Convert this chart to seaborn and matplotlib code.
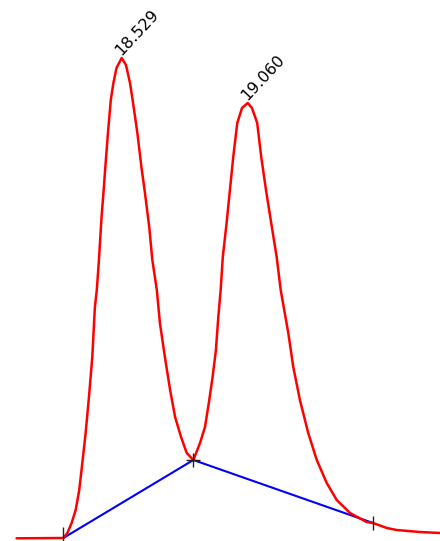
import matplotlib
matplotlib.use("Agg")
import matplotlib.pyplot as plt
import seaborn as sns
import pandas as pd

# Retention time (min) and detector signal
time_min = [18.086, 18.283, 18.300, 18.318, 18.335, 18.350, 18.363, 18.377, 18.391, 18.405,
            18.416, 18.424, 18.433, 18.444, 18.452, 18.460, 18.471, 18.483, 18.494, 18.507,
            18.529, 18.547, 18.564, 18.575, 18.595, 18.612, 18.627, 18.645, 18.658, 18.677,
            18.690, 18.711, 18.733, 18.754, 18.779, 18.803, 18.831, 18.859, 18.880, 18.898,
            18.912, 18.926, 18.936, 18.946, 18.955, 18.971, 18.985, 18.999, 19.016, 19.036,
            19.060, 19.078, 19.100, 19.117, 19.137, 19.159, 19.182, 19.199, 19.231, 19.252,
            19.280, 19.315, 19.351, 19.393, 19.435, 19.491, 19.561, 19.588, 19.646, 19.688,
            19.786, 19.870]
signal = [2.7, 3, 8, 18, 31, 51, 78, 108, 144, 184,
          234, 251, 281, 324, 348, 374, 408, 441, 458, 473,
          483, 476, 458, 441, 408, 374, 348, 314, 281, 251,
          218, 184, 151, 124, 104, 88, 81, 98, 114, 141,
          164, 191, 224, 251, 284, 318, 351, 384, 418, 433,
          438, 433, 418, 384, 351, 318, 284, 251, 208, 174,
          141, 108, 81, 58, 41, 28, 19, 18, 13, 11,
          9, 8]

# Integration baseline points (start, valley drop, end)
base_time = [18.283, 18.831, 19.588]
base_signal = [3, 81, 18]

# Peak labels
peak_time = [18.529, 19.060]
peak_signal = [483, 438]
peak_labels = ["18.529", "19.060"]

sns.set_theme(style="white")
fig = plt.figure(figsize=(4.4, 5.41), dpi=100)
ax = fig.add_axes([0, 0, 1, 1])

df = pd.DataFrame({"t": time_min, "s": signal})
bdf = pd.DataFrame({"t": base_time, "s": base_signal})

sns.lineplot(data=bdf, x="t", y="s", sort=False, color="#0000ff", lw=1.5, ax=ax, zorder=2)
sns.lineplot(data=df, x="t", y="s", sort=False, color="#ff0000", lw=1.8, ax=ax, zorder=3)

# baseline markers
ax.scatter([base_time[0], base_time[2]], [base_signal[0] + 4, base_signal[2]], marker="|",
           s=90, color="#202020", linewidths=1.0, zorder=4)
ax.scatter([base_time[1]], [base_signal[1]], marker="+", s=110, color="#202020",
           linewidths=1.0, zorder=4)

for t, s, lab in zip(peak_time, peak_signal, peak_labels):
    ax.text(t, s + 2, lab, rotation=47, rotation_mode="anchor", ha="left",
            va="baseline", fontsize=11.5, color="black", zorder=5)

ax.set_xlim(18.0161, 19.8703)
ax.set_ylim(0, 541)
ax.set_axis_off()
fig.savefig("out.png", dpi=100)
